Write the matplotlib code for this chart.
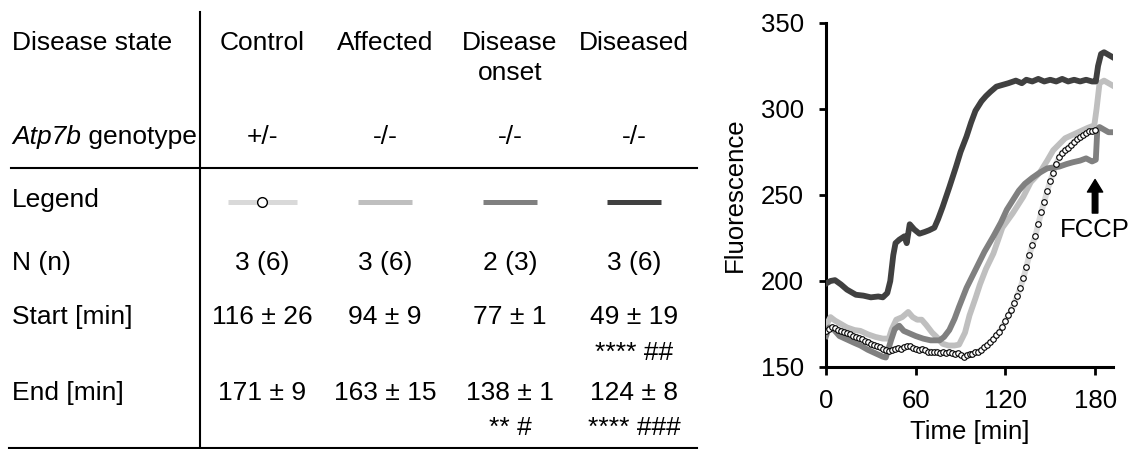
import numpy as np
import matplotlib
matplotlib.use("Agg")
import matplotlib.pyplot as plt

plt.rcParams['font.family'] = ['Liberation Sans', 'DejaVu Sans']

# ---- table content ----
groups = ["Control", "Affected", "Disease\nonset", "Diseased"]
genotypes = ["+/-", "-/-", "-/-", "-/-"]
n_values = ["3 (6)", "3 (6)", "2 (3)", "3 (6)"]
start_values = ["116 ± 26", "94 ± 9", "77 ± 1", "49 ± 19"]
start_sig = ["", "", "", "**** ##"]
end_values = ["171 ± 9", "163 ± 15", "138 ± 1", "124 ± 8"]
end_sig = ["", "", "** #", "**** ###"]
colors = ["#d9d9d9", "#bfbfbf", "#808080", "#404040"]

# ---- traces (time [min], fluorescence) ----
control_t = list(range(0, 182, 2))
control_y = [171, 172, 173, 172.5, 171.5, 171, 170.5, 170, 169, 168,
             167.5, 167, 166, 165, 164.5, 163.5, 163, 162, 161.5, 160.5,
             160, 159.5, 160, 160.5, 161, 160.5, 161.5, 162, 162, 161,
             160.5, 160, 160.5, 160, 159, 159, 158.5, 159, 158, 158.5,
             158, 158.5, 158, 157.5, 158, 157, 156, 157, 157.5, 157.5,
             158.5, 159, 160, 161.5, 163, 164.5, 166, 168.5, 170.5, 173.5,
             176.5, 180, 183, 187, 191.5, 196, 201.5, 208, 215, 221,
             226, 233, 240, 246, 252.5, 258, 263, 268, 272, 274.5,
             276, 277.5, 279, 281, 282.5, 284, 285, 286, 287, 287.5, 288]

affected_t = [0, 3, 6, 9, 14, 19, 23, 28, 33, 38, 42, 44, 47, 51, 55, 58, 61,
              64, 67, 71, 74, 78, 82, 86, 89, 93, 96, 100, 103, 107, 112, 118,
              125, 132, 137, 143, 148, 152, 156, 160, 165, 170, 175, 179.5,
              181, 183, 186, 189, 192]
affected_y = [174, 179, 177, 175.5, 173, 171.5, 171, 169, 167.5, 166.5, 166.5,
              172, 177.5, 179, 182, 179, 177.5, 177.5, 174.5, 170, 167.5,
              163.5, 162.5, 162.5, 163, 170, 180, 190, 198, 207, 216, 231,
              239.5, 249, 257.5, 263, 270, 276, 279.5, 283, 285, 287, 289,
              290.5, 300, 315, 316.5, 315, 313.5]

onset_t = [0, 2, 5, 9, 14, 19, 23, 28, 33, 38, 40, 43.5, 46, 49, 52, 56, 60,
           65, 70, 76, 79, 82.5, 86, 89, 94, 100, 106, 112, 117, 121, 125, 129,
           133, 138, 143, 148, 152, 156, 161, 165, 170, 174, 178, 180.5, 181.5,
           183, 186, 189, 192]
onset_y = [168, 173, 172, 168, 166, 164, 162.5, 160, 158, 156, 155.5, 165.5,
           172, 174, 171, 169.5, 168, 166.5, 165.5, 165.5, 167.5, 171.5, 178,
           185, 196, 206.5, 217, 226, 234, 241.5, 247, 252.5, 256.5, 260, 263,
           265.5, 266, 266.5, 268, 269, 270, 271.3, 269.5, 270.5, 288, 289.5,
           288, 286.5, 286.5]

diseased_t = [0, 3, 6, 10, 14, 20, 25, 30, 35, 38, 41, 43, 45, 46.5, 49, 52.5,
              54, 56, 59, 62.5, 66, 69, 72.5, 75, 78, 82.5, 87, 90, 94, 97, 100,
              104, 107, 110, 114, 118, 122, 127, 131, 134, 138, 142, 146, 150,
              154, 158, 162, 166, 170, 174, 178, 180.5, 182, 184, 186, 189, 192]
diseased_y = [198.5, 200, 200.5, 198, 195, 192, 191.5, 190.5, 191, 190.5, 193,
              200, 215, 222, 224, 226, 222, 233, 230, 227.5, 228.5, 229.5, 231,
              236, 243, 254.5, 266.5, 275, 284, 292, 299, 304.5, 307.5, 310,
              313, 314, 315, 316.5, 315, 317, 316, 317.5, 316, 317, 316, 317.5,
              316, 317, 316, 317, 316, 316, 325, 332, 333, 331.5, 330]

fig = plt.figure(figsize=(11.37, 4.49), dpi=100)

# ---- table drawn in pixel space ----
tab = fig.add_axes([0, 0, 1, 1])
tab.set_xlim(0, 1137)
tab.set_ylim(449, 0)
tab.axis('off')

fs = 19
col_x = [262, 385, 510, 634]
lab_x = 12

tab.text(lab_x, 43, "Disease state", fontsize=fs, va='center')
geno = tab.text(lab_x, 137, "Atp7b", fontsize=fs, va='center', style='italic')
tab.annotate(" genotype", xy=(1, 0.5), xycoords=geno, fontsize=fs,
             va='center', ha='left')
tab.text(lab_x, 200, "Legend", fontsize=fs, va='center')
tab.text(lab_x, 263, "N (n)", fontsize=fs, va='center')
tab.text(lab_x, 317, "Start [min]", fontsize=fs, va='center')
tab.text(lab_x, 393, "End [min]", fontsize=fs, va='center')

for i, x in enumerate(col_x):
    for j, part in enumerate(groups[i].split("\n")):
        tab.text(x, 43 + 30 * j, part, fontsize=fs, ha='center', va='center')
    tab.text(x, 137, genotypes[i], fontsize=fs, ha='center', va='center')
    tab.text(x, 263, n_values[i], fontsize=fs, ha='center', va='center')
    tab.text(x, 317, start_values[i], fontsize=fs, ha='center', va='center')
    tab.text(x, 393, end_values[i], fontsize=fs, ha='center', va='center')
    if start_sig[i]:
        tab.text(x, 353, start_sig[i], fontsize=fs, ha='center', va='center')
    if end_sig[i]:
        tab.text(x, 428, end_sig[i], fontsize=fs, ha='center', va='center')

# legend swatches
tab.plot([228, 297], [202, 202], color=colors[0], lw=3.6, solid_capstyle='butt')
tab.plot([262], [202], 'o', ms=7, mfc='white', mec='black', mew=1)
for i in range(1, 4):
    tab.plot([col_x[i] - 27, col_x[i] + 27], [202, 202], color=colors[i],
             lw=3.6, solid_capstyle='butt')

tab.plot([200, 200], [12, 448], color='black', lw=1.5)
tab.plot([11, 697], [168, 168], color='black', lw=1.5)
tab.plot([9, 697], [448, 448], color='black', lw=1.5)

# ---- fluorescence traces ----
ax = fig.add_axes([826 / 1137, 82 / 449, 287 / 1137, 344 / 449])
lw = 4.2
ax.plot(control_t, control_y, color=colors[0], lw=lw, zorder=2)
ax.plot(affected_t, affected_y, color=colors[1], lw=lw, zorder=3)
ax.plot(onset_t, onset_y, color=colors[2], lw=lw, zorder=3)
ax.plot(diseased_t, diseased_y, color=colors[3], lw=lw, zorder=3)
ax.plot(control_t, control_y, 'o', ms=4, mfc='white', mec='black',
        mew=0.8, zorder=4)

ax.set_xlim(0, 192)
ax.set_ylim(150, 350)
ax.set_xticks([0, 60, 120, 180])
ax.set_yticks([150, 200, 250, 300, 350])
for s in ['top', 'right']:
    ax.spines[s].set_visible(False)
for s in ['left', 'bottom']:
    ax.spines[s].set_linewidth(2.2)
ax.tick_params(axis='y', direction='out', length=5, width=2, pad=11,
               labelsize=18.5)
ax.tick_params(axis='x', direction='out', length=6, width=2, pad=10,
               labelsize=18.5)
ax.set_ylabel("Fluorescence", fontsize=18.5)
ax.yaxis.set_label_coords(-0.275, 0.5)
ax.set_xlabel("Time [min]", fontsize=18.5)
ax.xaxis.set_label_coords(0.5, -0.155)

ax.annotate("", xy=(180, 259), xytext=(180, 239.5),
            arrowprops=dict(arrowstyle='simple,head_width=0.55,head_length=0.45,tail_width=0.2',
                            mutation_scale=20, color='black', shrinkA=0, shrinkB=0),
            annotation_clip=False)
ax.text(180, 229.5, "FCCP", fontsize=18.5, ha='center', va='center', clip_on=False)

fig.savefig("out.png", dpi=100)
